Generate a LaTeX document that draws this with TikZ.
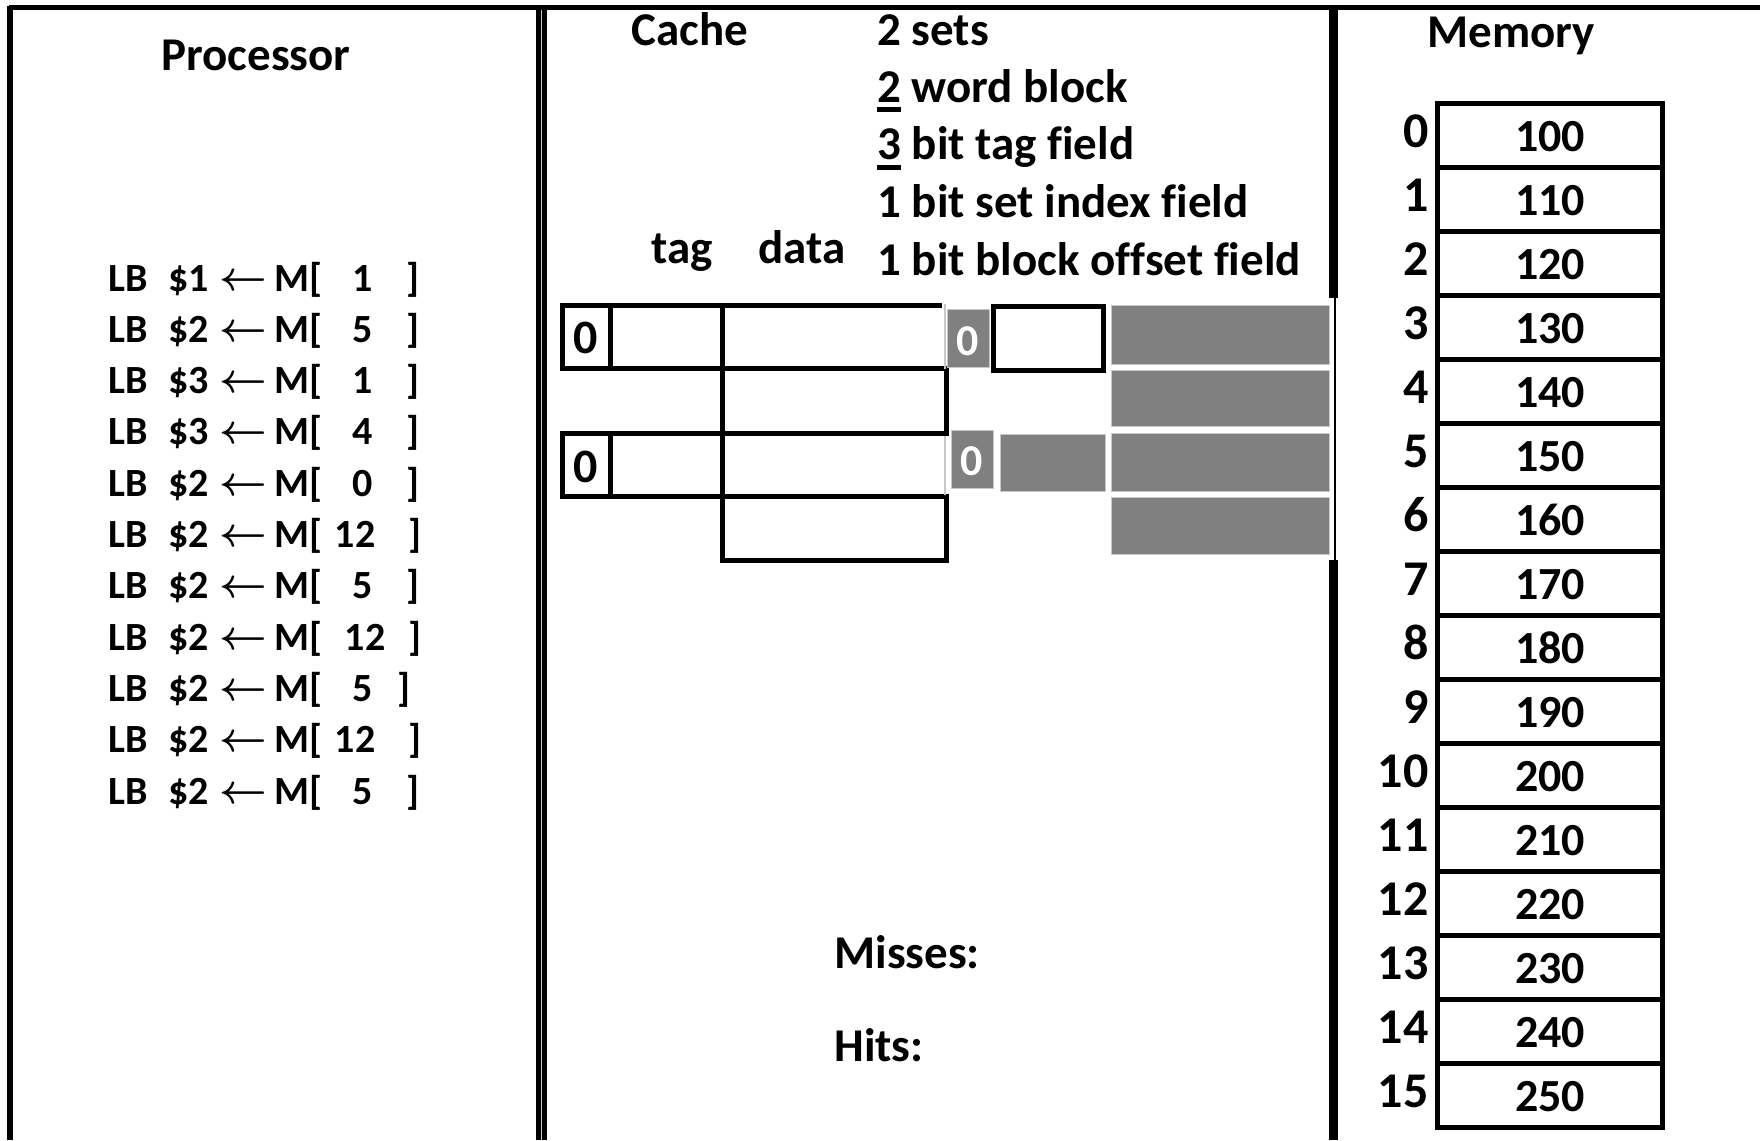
\documentclass[tikz,border=0pt]{standalone}
\usepackage{fontspec}
\setmainfont{Carlito}[Ligatures=CommonOff]
\definecolor{cgray}{HTML}{808080}
\definecolor{cline}{HTML}{C8C8C8}
\newcommand\fA{\fontsize{23.5}{28}\selectfont\bfseries}
\newcommand\fB{\fontsize{20}{24}\selectfont\bfseries}
\newcommand\myul[1]{\setbox0\hbox{#1}\rlap{\rule[-5pt]{\wd0}{2.5pt}}#1}
\begin{document}
\begin{tikzpicture}[x=0.5pt,y=-0.5pt,
  cl/.style={line width=2.5pt,line cap=rect},
  ml/.style={line width=2.5pt},
  gcell/.style={fill=cgray,draw=cline,line width=0.5pt},
  txt/.style={inner sep=0pt,font=\fA},
  lbt/.style={inner sep=0pt,font=\fB}]
\useasboundingbox (0,0) rectangle (1760,1140);
% frame
\draw[line width=2.5pt] (8.6,7) -- (1760,7);
\draw[line width=2.75pt] (10,5.75) -- (10,1140);
\draw[line width=5.5pt] (541,7) -- (541,1140);
\draw[cline,line width=0.4pt] (541.5,9.5) -- (541.5,1140);
\draw[line width=4.5pt] (1333,7) -- (1333,298);
\draw[line width=4.5pt] (1333,560) -- (1333,1140);
\draw[line width=0.8pt] (1335,298) -- (1335,560);
% titles
\node[txt,anchor=base] (proc) at (256,70) {Processor};
\node[txt,anchor=base west] (cache) at (631,45) {Cache};
\node[txt,anchor=base] (mem) at (1511,47) {Memory};
% cache parameters
\node[txt,anchor=base west] (p1) at (877,45) {2 sets};
\node[txt,anchor=base west] (p2) at (877,102) {\myul{2} word block};
\node[txt,anchor=base west] (p3) at (877,159.5) {\myul{3} bit tag field};
\node[txt,anchor=base west] (p4) at (877,217) {1 bit set index field};
\node[txt,anchor=base west] (p5) at (877,275) {1 bit block offset field};
\node[txt,anchor=base west] (tag) at (651,263) {tag};
\node[txt,anchor=base west] (data) at (758,263) {data};
% cache lines
\draw[cl] (562,305) rectangle (610.5,368.5);
\draw[cl] (610.5,305) rectangle (722,368.5);
\draw[cl] (722,305) -- (939,305);
\draw[cl] (722,368.5) -- (939,368.5);
\draw[cl] (722,368.5) rectangle (946,433);
\draw[cl] (562,433) rectangle (610.5,496.5);
\draw[cl] (610.5,433) rectangle (722,496.5);
\draw[cl] (722,433) -- (946,433);
\draw[cl] (722,496.5) -- (946,496.5);
\draw[cl] (722,496.5) rectangle (946,560.5);
\draw[cline,line width=0.6pt] (945,304) -- (945,369);
\draw[cline,line width=0.6pt] (945,436) -- (945,495);
\node[inner sep=0pt,font=\fontsize{24}{28}\selectfont\bfseries,anchor=base] (v1) at (586,353) {0};
\node[inner sep=0pt,font=\fontsize{24}{28}\selectfont\bfseries,anchor=base] (v2) at (586,482) {0};
% gray cells
\fill[gcell] (947,309) rectangle (989,367);
\node[inner sep=0pt,font=\fontsize{22}{26}\selectfont\bfseries,text=white,anchor=base] (g1) at (968,355) {0};
\draw[line width=2.5pt] (993.5,306.5) rectangle (1103.5,370.5);
\fill[gcell] (951,430) rectangle (993,488);
\node[inner sep=0pt,font=\fontsize{22}{26}\selectfont\bfseries,text=white,anchor=base] (g2) at (972,475) {0};
\fill[gcell] (1000,434) rectangle (1105,491);
\fill[gcell] (1111,305.5) rectangle (1329,364.5);
\fill[gcell] (1111,370) rectangle (1329,426.5);
\fill[gcell] (1111,433) rectangle (1329,491);
\fill[gcell] (1111,497) rectangle (1329,554.5);
% memory
\foreach \i in {0,...,15} {
  \draw[ml] (1437.5,{103.5+64*\i}) rectangle (1662,{167.5+64*\i});
  \pgfmathtruncatemacro{\v}{100+10*\i}
  \node[inner sep=0pt,font=\fontsize{23}{27}\selectfont\bfseries,anchor=base] (val\i) at (1550,{151+64*\i}) {\v};
  \node[inner sep=0pt,font=\fontsize{25}{29}\selectfont\bfseries,anchor=base east] (idx\i) at (1429,{147+64*\i}) {\i};
}
% instructions
\foreach \i/\r/\n/\nx/\bx in {0/1/1/363/406,1/2/5/363/406,2/3/1/363/406,3/3/4/363/406,4/2/0/363/406,5/2/12/355/408,6/2/5/363/406,7/2/12/365/408,8/2/5/363/397,9/2/12/355/408,10/2/5/363/406} {
  \node[lbt,anchor=base west] (lb\i) at (108,{291+51.3*\i}) {LB};
  \node[lbt,anchor=base west] (rg\i) at (168,{291+51.3*\i}) {\$\r};
  \node[inner sep=0pt,font=\fontsize{21}{25}\selectfont\boldmath,anchor=base] (ar\i) at (243,{290+51.3*\i}) {$\leftarrow$};
  \node[lbt,anchor=base west] (mm\i) at (274,{291+51.3*\i}) {M[};
  \node[lbt,anchor=base] (ad\i) at (\nx,{291+51.3*\i}) {\n};
  \node[lbt,anchor=base west] (br\i) at (\bx,{291+51.3*\i}) {]};
}
% counters
\node[txt,anchor=base west] (miss) at (834,968) {Misses:};
\node[txt,anchor=base west] (hits) at (834,1061) {Hits:};
\end{tikzpicture}
\end{document}
